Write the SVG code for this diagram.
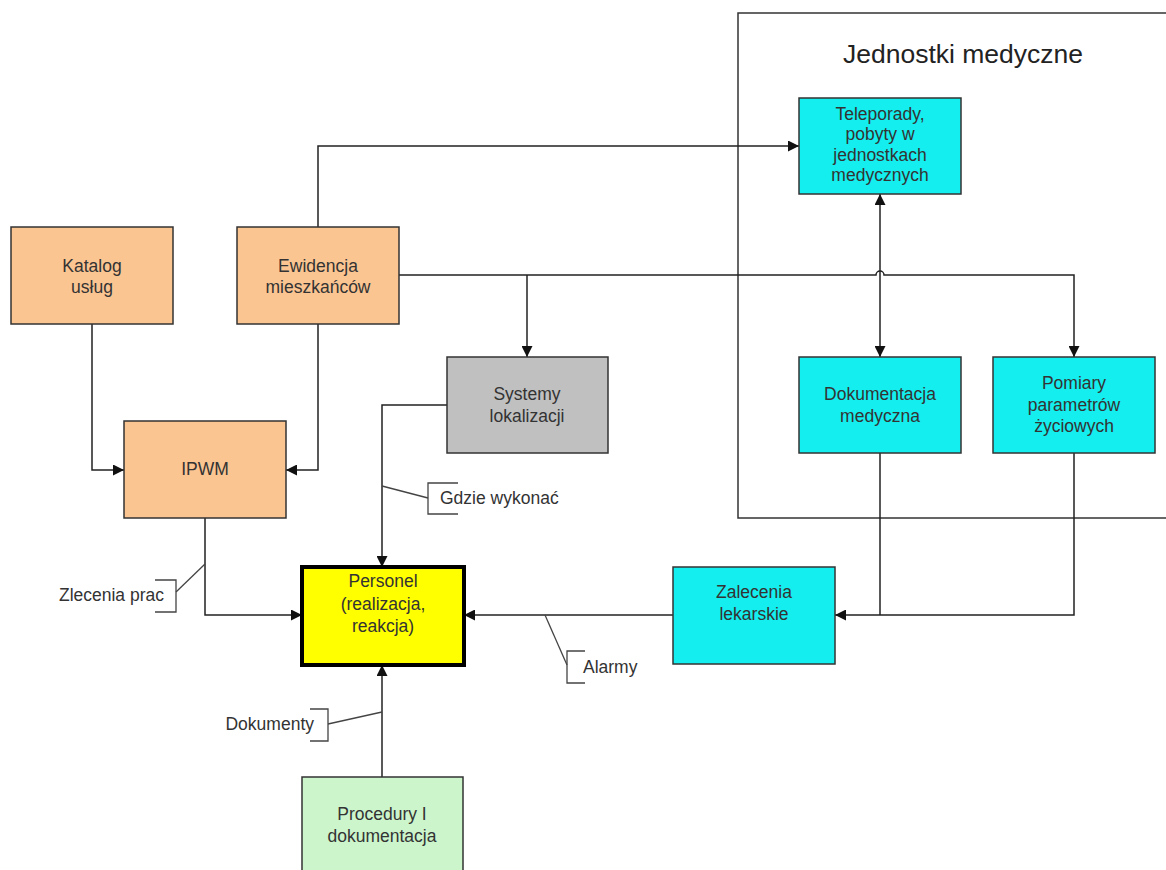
<svg xmlns="http://www.w3.org/2000/svg" width="1166" height="870" viewBox="0 0 1166 870">
<defs>
<marker id="ah" viewBox="0 0 10 10" refX="10" refY="5" markerWidth="11" markerHeight="11" markerUnits="userSpaceOnUse" orient="auto-start-reverse">
<path d="M0,0 L10,5 L0,10 z" fill="#111"/>
</marker>
<style>
.box{stroke:#333;stroke-width:1.5}
.t{font-family:"Liberation Sans",Arial,sans-serif;font-size:17.5px;fill:#333;text-anchor:middle}
.lbl{font-family:"Liberation Sans",Arial,sans-serif;font-size:17.5px;fill:#333}
.c{fill:none;stroke:#222;stroke-width:1.5}
.co{fill:none;stroke:#444;stroke-width:1.3}
.or{fill:#fbc592}
.cy{fill:#14eeee}
</style>
</defs>
<rect width="1166" height="870" fill="#fff"/>

<g id="container">
<rect x="738" y="13" width="440" height="505" fill="none" stroke="#333" stroke-width="1.5"/>
<text x="963" y="63" font-family="'Liberation Sans',Arial,sans-serif" font-size="26.5" fill="#222" text-anchor="middle">Jednostki medyczne</text>
</g>

<g id="connectors">
<path class="c" d="M318,227 L318,146 L799,146" marker-end="url(#ah)"/>
<path class="c" d="M399,275 L876,275 A4,4 0 0 1 884,275 L1074,275 L1074,357" marker-end="url(#ah)"/>
<path class="c" d="M527,275 L527,357" marker-end="url(#ah)"/>
<path class="c" d="M880,194 L880,357" marker-start="url(#ah)" marker-end="url(#ah)"/>
<path class="c" d="M92,324 L92,470 L124,470" marker-end="url(#ah)"/>
<path class="c" d="M318,324 L318,470 L286,470" marker-end="url(#ah)"/>
<path class="c" d="M447,405 L382,405 L382,567" marker-end="url(#ah)"/>
<path class="c" d="M205,518 L205,615 L302,615" marker-end="url(#ah)"/>
<path class="c" d="M673,615 L464,615" marker-end="url(#ah)"/>
<path class="c" d="M880,453 L880,615"/>
<path class="c" d="M1074,453 L1074,615 L835,615" marker-end="url(#ah)"/>
<path class="c" d="M382,777 L382,665" marker-end="url(#ah)"/>
</g>

<g id="katalog">
<rect class="box or" x="11" y="227" width="162" height="97"/>
<text class="t" x="92" y="272">Katalog</text>
<text class="t" x="92" y="293">usług</text>
</g>
<g id="ewidencja">
<rect class="box or" x="237" y="227" width="162" height="97"/>
<text class="t" x="318" y="272">Ewidencja</text>
<text class="t" x="318" y="293">mieszkańców</text>
</g>
<g id="ipwm">
<rect class="box or" x="124" y="421" width="162" height="97"/>
<text class="t" x="205" y="475">IPWM</text>
</g>
<g id="systemy">
<rect class="box" fill="#c0c0c0" x="447" y="357" width="161" height="96"/>
<text class="t" x="527" y="400">Systemy</text>
<text class="t" x="527" y="422">lokalizacji</text>
</g>
<g id="teleporady">
<rect class="box cy" x="799" y="98" width="162" height="96"/>
<text class="t" x="880" y="120">Teleporady,</text>
<text class="t" x="880" y="140">pobyty w</text>
<text class="t" x="880" y="161">jednostkach</text>
<text class="t" x="880" y="181">medycznych</text>
</g>
<g id="dokumentacja">
<rect class="box cy" x="799" y="357" width="162" height="96"/>
<text class="t" x="880" y="400">Dokumentacja</text>
<text class="t" x="880" y="422">medyczna</text>
</g>
<g id="pomiary">
<rect class="box cy" x="993" y="357" width="162" height="96"/>
<text class="t" x="1074" y="389">Pomiary</text>
<text class="t" x="1074" y="411">parametrów</text>
<text class="t" x="1074" y="432">życiowych</text>
</g>
<g id="zalecenia">
<rect class="box cy" x="673" y="567" width="162" height="97"/>
<text class="t" x="754" y="598">Zalecenia</text>
<text class="t" x="754" y="620">lekarskie</text>
</g>
<g id="personel">
<rect x="302" y="567" width="162" height="98" fill="#ffff00" stroke="#000" stroke-width="4"/>
<text class="t" x="383" y="587">Personel</text>
<text class="t" x="383" y="610">(realizacja,</text>
<text class="t" x="383" y="632">reakcja)</text>
</g>
<g id="procedury">
<rect class="box" fill="#ccf5cc" x="302" y="777" width="161" height="110"/>
<text class="t" x="382" y="820">Procedury I</text>
<text class="t" x="382" y="842">dokumentacja</text>
</g>

<g id="label-gdzie">
<path class="co" d="M382,486 L428,498"/>
<path class="co" d="M458,483 L428,483 L428,514 L458,514"/>
<text class="lbl" x="440" y="504">Gdzie wykonać</text>
</g>
<g id="label-zlecenia">
<path class="co" d="M205,564 L176,592"/>
<path class="co" d="M155,580 L176,580 L176,612 L155,612"/>
<text class="lbl" x="164" y="601" text-anchor="end">Zlecenia prac</text>
</g>
<g id="label-alarmy">
<path class="co" d="M545,615 L567,665"/>
<path class="co" d="M585,651 L567,651 L567,683 L585,683"/>
<text class="lbl" x="583" y="673">Alarmy</text>
</g>
<g id="label-dokumenty">
<path class="co" d="M382,712 L328,724"/>
<path class="co" d="M310,709 L328,709 L328,741 L310,741"/>
<text class="lbl" x="314" y="730" text-anchor="end">Dokumenty</text>
</g>
</svg>
